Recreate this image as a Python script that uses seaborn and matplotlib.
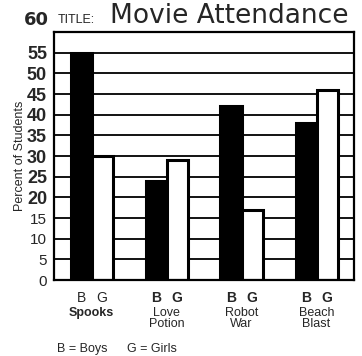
import matplotlib
matplotlib.use("Agg")
import matplotlib.pyplot as plt
import matplotlib.transforms as mtransforms
import seaborn as sns
import pandas as pd

movies = ["Spooks", "Love\nPotion", "Robot\nWar", "Beach\nBlast"]
boys = [55, 24, 42, 38]
girls = [30, 29, 17, 46]
y_ticks = [0, 5, 10, 15, 20, 25, 30, 35, 40, 45, 50, 55]

df = pd.DataFrame({
    "movie": movies * 2,
    "group": ["B"] * len(movies) + ["G"] * len(movies),
    "percent": boys + girls,
})

sns.set_style("white")
plt.rcParams["font.family"] = ["Liberation Sans", "DejaVu Sans"]

fig = plt.figure(figsize=(3.62, 3.56), dpi=100)
ax = fig.add_axes([54 / 362, 1 - 280 / 356, 300 / 362, 248 / 356])

sns.barplot(data=df, x="movie", y="percent", hue="group",
            palette={"B": "black", "G": "white"}, edgecolor="black",
            linewidth=2.2, width=0.56, gap=0, legend=False, ax=ax)

ax.set_ylim(0, 60)
ax.yaxis.grid(True, color="black", linewidth=1.3)
ax.set_axisbelow(True)
ax.set_yticks(y_ticks)
ax.set_yticklabels([str(v) for v in y_ticks])
for lab, v in zip(ax.get_yticklabels(), y_ticks):
    if v >= 20:
        lab.set_fontsize(13)
        lab.set_fontweight("bold")
    else:
        lab.set_fontsize(11)
ax.tick_params(axis="y", length=0, pad=5)
for s in ax.spines.values():
    s.set_color("black")
    s.set_linewidth(1.6)

# B / G letters under each bar, movie name under each pair
ax.set_xticks([])
ax.set_xlabel("")
trans = mtransforms.blended_transform_factory(ax.transData, ax.transAxes)
for i, name in enumerate(movies):
    ax.text(i - 0.14, -0.045, "B", transform=trans, ha="center", va="top",
            fontsize=10, fontweight="bold" if i else "normal")
    ax.text(i + 0.14, -0.045, "G", transform=trans, ha="center", va="top",
            fontsize=10, fontweight="bold" if i else "normal")
    ax.text(i, -0.11, name, transform=trans, ha="center", va="top",
            fontsize=9, linespacing=0.9,
            fontweight="bold" if i == 0 else "normal")

ax.set_ylabel("Percent of Students", fontsize=9, labelpad=1)

fig.text(24 / 362, 1 - 20 / 356, "60", fontsize=13, fontweight="bold",
         ha="left", va="center", family="DejaVu Sans")
fig.text(58 / 362, 1 - 20 / 356, "TITLE:", fontsize=9, ha="left", va="center")
fig.text(110 / 362, 1 - 16 / 356, "Movie Attendance", fontsize=19,
         ha="left", va="center", family="DejaVu Sans")
fig.text(57 / 362, 1 - 349 / 356, "B = Boys", fontsize=9,
         ha="left", va="center")
fig.text(127 / 362, 1 - 349 / 356, "G = Girls", fontsize=9,
         ha="left", va="center")

fig.savefig("out.png", dpi=100)
